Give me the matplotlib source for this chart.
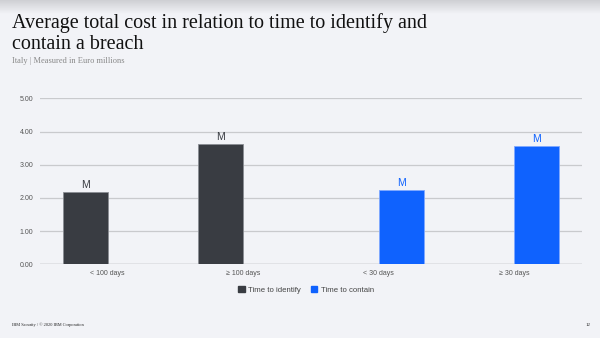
import numpy as np
import matplotlib
matplotlib.use("Agg")
import matplotlib.pyplot as plt
from matplotlib.patches import Patch

# data
categories = ["< 100 days", "\u2265 100 days", "< 30 days", "\u2265 30 days"]
identify = [2.17, 3.61, 0, 0]
contain = [0, 0, 2.23, 3.55]
series_names = ["Time to identify", "Time to contain"]
yticks = [0, 1, 2, 3, 4, 5]

bg = "#f2f3f7"
dark = "#393c42"
blue = "#0f62fe"

fig = plt.figure(figsize=(6, 3.38), dpi=100, facecolor=bg)

# top shading band
band = fig.add_axes([0, 1 - 14 / 338, 1, 14 / 338])
grad = np.linspace(0, 1, 50).reshape(-1, 1)
band.imshow(grad, aspect="auto", cmap=matplotlib.colors.LinearSegmentedColormap.from_list("g", ["#cfd0d4", bg]),
            extent=[0, 1, 0, 1])
band.axis("off")

ax = fig.add_axes([40 / 600, 1 - 264.3 / 338, 542 / 600, 166 / 338])
ax.set_facecolor(bg)

x = np.arange(len(categories))
w = 0.333
b1 = ax.bar(x - w / 2, identify, w, color=dark, edgecolor="#8a8d93", linewidth=0.6, zorder=3)
b2 = ax.bar(x + w / 2, contain, w, color=blue, edgecolor="#7fa8ff", linewidth=0.6, zorder=3)

for bars, vals, c in [(b1, identify, dark), (b2, contain, blue)]:
    for bar, v in zip(bars, vals):
        if v > 0:
            ax.text(bar.get_x() + bar.get_width() / 2, v + 0.06, "M", ha="center", va="bottom",
                    fontsize=7.5, color=c, family="Liberation Sans")

ax.set_xlim(-0.5, len(categories) - 0.5)
ax.set_ylim(0, 5)
ax.set_yticks(yticks)
ax.set_yticklabels([f"{t:.2f}" for t in yticks], fontsize=5, color="#555555", family="Liberation Sans")
ax.set_xticks(x)
ax.set_xticklabels(categories, fontsize=5, color="#555555", family="Liberation Sans")
ax.tick_params(length=0, pad=4)
ax.tick_params(axis="y", pad=5)
ax.grid(axis="y", color="#c9cacd", linewidth=0.9, zorder=0)
for s in ax.spines.values():
    s.set_visible(False)
ax.axhline(0, color="#b5b6b9", linewidth=1, zorder=2)

handles = [Patch(color=dark), Patch(color=blue)]
fig.legend(handles, series_names, loc="center", bbox_to_anchor=(306 / 600, 1 - 290 / 338), ncol=2,
           frameon=False, handlelength=0.85, handleheight=0.85, handletextpad=0.4,
           columnspacing=1.3, labelcolor="#444444", prop={"family": "Liberation Sans", "size": 5.6})

fig.text(12 / 600, 1 - 28 / 338, "Average total cost in relation to time to identify and",
         fontsize=14.5, family="Liberation Serif", color="#111111", va="baseline")
fig.text(12 / 600, 1 - 49 / 338, "contain a breach",
         fontsize=14.5, family="Liberation Serif", color="#111111", va="baseline")
fig.text(12 / 600, 1 - 63 / 338, "Italy | Measured in Euro millions",
         fontsize=6, family="Liberation Serif", color="#888888", va="baseline")

fig.text(12 / 600, 1 - 326 / 338, "IBM Security / \u00a9 2020 IBM Corporation",
         fontsize=3.2, family="Liberation Serif", color="#222222", va="baseline")
fig.text(591 / 600, 1 - 326 / 338, "12",
         fontsize=3.5, family="Liberation Serif", color="#222222", va="baseline", ha="right")

fig.savefig("out.png", dpi=100, facecolor=bg)
